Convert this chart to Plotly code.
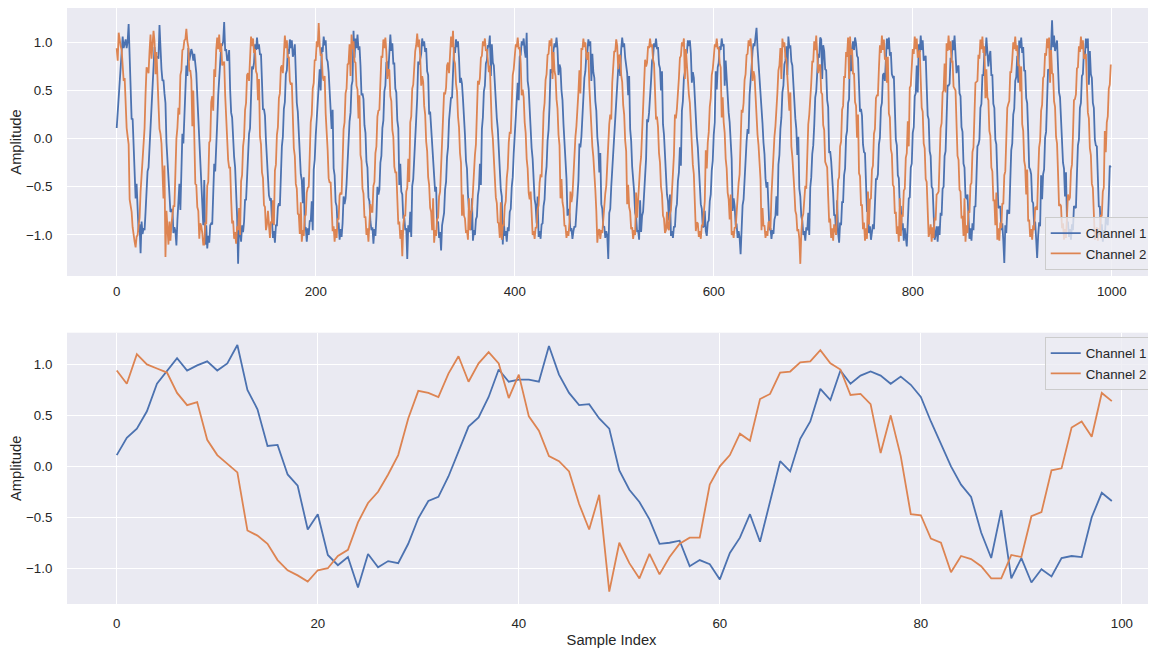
import plotly.graph_objects as go

# ---------------- data ----------------
ch1 = [
    # 0-99
    0.11, 0.28, 0.37, 0.54, 0.81, 0.93, 1.06, 0.94, 0.99, 1.03,
    0.94, 1.01, 1.19, 0.75, 0.56, 0.20, 0.21, -0.08, -0.19, -0.62,
    -0.47, -0.87, -0.97, -0.89, -1.19, -0.86, -0.99, -0.93, -0.95, -0.76,
    -0.51, -0.34, -0.30, -0.10, 0.14, 0.39, 0.48, 0.68, 0.95, 0.83,
    0.85, 0.85, 0.83, 1.18, 0.90, 0.72, 0.60, 0.61, 0.47, 0.37,
    -0.04, -0.23, -0.35, -0.52, -0.76, -0.75, -0.73, -0.98, -0.92, -0.96,
    -1.11, -0.85, -0.70, -0.47, -0.74, -0.34, 0.05, -0.05, 0.27, 0.44,
    0.76, 0.65, 0.94, 0.81, 0.89, 0.93, 0.89, 0.81, 0.88, 0.80,
    0.68, 0.44, 0.22, 0.00, -0.18, -0.30, -0.65, -0.90, -0.43, -1.10,
    -0.90, -1.14, -1.01, -1.08, -0.90, -0.88, -0.89, -0.50, -0.26, -0.34,
    # 100-199
    0.05, 0.16, 0.45, 0.66, 0.74, 0.96, 0.97, 1.01, 1.21, 0.91,
    0.93, 0.81, 0.82, 0.92, 0.51, 0.27, 0.22, -0.11, -0.19, -0.30,
    -0.56, -0.81, -1.30, -0.88, -0.96, -1.07, -0.90, -0.97, -0.86, -0.63,
    -0.64, -0.39, -0.28, 0.05, 0.11, 0.38, 0.75, 0.72, 0.79, 0.98,
    0.92, 1.05, 0.93, 0.98, 0.87, 0.88, 0.66, 0.30, 0.31, 0.24,
    -0.02, -0.27, -0.33, -0.59, -0.63, -0.62, -0.84, -1.03, -0.96, -1.08,
    -0.90, -0.90, -0.71, -0.67, -0.70, -0.33, -0.08, 0.02, 0.31, 0.38,
    0.67, 0.71, 0.93, 0.88, 1.03, 0.94, 1.02, 0.85, 0.89, 0.98,
    0.66, 0.37, 0.28, -0.01, -0.09, -0.37, -0.43, -0.67, -0.40, -0.93,
    -0.92, -1.07, -0.93, -1.00, -0.85, -0.86, -0.65, -0.95, -0.32, -0.22,
    # 200-299
    0.03, 0.22, 0.33, 0.58, 0.72, 0.50, 0.95, 0.90, 1.06, 0.97,
    1.02, 0.83, 0.80, 0.69, 0.44, 0.36, 0.10, 0.30, -0.31, -0.38,
    -0.66, -0.70, -0.92, -0.87, -1.05, -0.94, -1.02, -0.88, -0.60, -0.68,
    -0.62, -0.47, -0.20, -0.10, 0.18, 0.27, 0.55, 0.60, 1.12, 0.84,
    1.04, 0.94, 1.08, 0.92, 0.96, 0.76, 0.45, 0.47, 0.41, 0.14,
    0.06, -0.24, -0.30, -0.61, -0.65, -0.86, -0.95, -0.92, -1.09, -0.94,
    -1.01, -0.81, -0.50, -0.58, -0.53, -0.25, -0.18, 0.11, 0.19, 0.49,
    0.55, 0.79, 0.80, 0.70, 0.93, 1.08, 0.91, 0.99, 0.78, 0.78,
    0.52, 0.48, 0.19, 0.11, -0.48, -0.26, -0.55, -0.58, -0.83, -0.82,
    -0.95, -0.93, -1.25, -0.90, -0.97, -0.76, -1.02, -0.49, -0.42, -0.14,
    # 300-399
    -0.04, 0.21, 0.42, 0.80, 0.77, 0.85, 0.88, 1.04, 0.96, 1.01,
    0.90, 0.94, 0.70, 0.66, 0.25, 0.28, 0.09, -0.01, -0.30, -0.47,
    -0.55, -0.50, -0.88, -0.86, -1.03, -0.97, -1.16, -0.90, -0.80, -0.77,
    -0.53, -0.45, -0.19, -0.09, 0.19, 0.34, 0.43, 0.42, 0.74, 0.95,
    0.89, 1.03, 0.95, 1.01, 0.84, 0.58, 0.63, 0.57, 0.41, 0.12,
    0.04, -0.23, -0.31, -0.58, -0.74, -0.77, -0.95, -0.62, -1.06, -0.95,
    -1.00, -0.84, -0.81, -0.59, -0.52, -0.26, -0.48, 0.10, 0.22, 0.49,
    0.55, 0.78, 0.81, 0.97, 0.95, 1.07, 0.65, 0.98, 0.79, 0.76,
    0.54, 0.47, 0.21, 0.10, -0.18, -0.28, -0.53, -0.60, -1.10, -0.85,
    -1.01, -0.96, -1.07, -0.92, -0.96, -0.76, -0.73, -0.50, -0.40, -0.15,
    # 400-499
    0.05, 0.15, 0.40, 0.58, 0.40, 0.85, 0.87, 1.01, 0.97, 1.04,
    0.91, 0.84, 1.10, 0.60, 0.52, 0.27, 0.16, -0.10, -0.21, -0.47,
    -0.63, -0.69, -0.88, -0.60, -1.02, -0.96, -1.04, -0.89, -0.88, -0.70,
    -0.63, -0.39, -0.29, -0.02, 0.09, 0.35, 0.72, 0.68, 0.73, 0.92,
    0.99, 0.95, 1.05, 0.93, 0.66, 0.77, 0.73, 0.50, 0.40, 0.15,
    -0.04, -0.16, -0.41, -0.80, -0.73, -0.78, -0.96, -0.93, -1.04, -0.96,
    -0.91, -0.92, -0.73, -0.68, -0.44, -0.05, -0.09, 0.02, 0.29, 0.39,
    0.63, 0.70, 0.88, 0.90, 1.03, 0.96, 1.01, 0.60, 0.88, 0.69,
    0.63, 0.39, 0.29, 0.02, -0.09, -0.35, -0.15, -0.68, -0.73, -0.92,
    -0.91, -1.03, -0.96, -1.01, -1.25, -0.77, -0.73, -0.50, -0.33, -0.23,
    # 500-599
    -0.03, 0.24, 0.34, 0.57, 0.73, 0.78, 0.65, 0.93, 1.05, 0.95,
    0.99, 0.84, 0.74, 0.68, 0.45, 0.65, 0.10, -0.02, -0.29, -0.40,
    -0.55, -0.77, -0.81, -0.97, -0.95, -1.05, -0.64, -0.97, -0.80, -0.76,
    -0.55, -0.47, -0.21, 0.20, 0.17, 0.27, 0.52, 0.60, 0.81, 0.84,
    0.99, 0.95, 1.04, 0.93, 0.95, 0.77, 0.73, 0.50, 0.70, 0.15,
    0.04, -0.23, -0.33, -0.58, -0.65, -0.85, -0.58, -1.01, -0.96, -1.03,
    -0.91, -0.92, -0.73, -0.68, -0.44, -0.35, -0.09, -0.28, 0.29, 0.39,
    0.63, 0.69, 0.88, 0.89, 1.02, 0.96, 1.02, 0.89, 0.58, 0.69,
    0.63, 0.39, 0.29, 0.02, -0.09, -0.35, -0.44, -0.68, -0.73, -0.92,
    -0.91, -0.75, -0.96, -1.01, -0.87, -0.85, -0.65, -0.58, -0.33, -0.23,
    # 600-699
    0.04, 0.17, 0.70, 0.51, 0.74, 0.79, 0.96, 0.92, 1.04, 0.96,
    0.98, 0.55, 0.81, 0.61, 0.52, 0.27, 0.17, -0.09, -0.21, -0.75,
    -0.62, -0.70, -0.89, -0.89, -1.03, -0.96, -1.03, -1.20, -0.89, -0.69,
    -0.63, -0.40, -0.28, -0.03, 0.10, 0.05, 0.45, 0.67, 0.74, 0.91,
    0.99, 0.96, 1.04, 1.15, 0.94, 0.78, 0.72, 0.51, 0.40, 0.16,
    -0.04, -0.16, -0.41, -0.51, -0.45, -0.78, -0.95, -0.93, -1.04, -0.95,
    -0.99, -0.84, -0.80, -0.60, -0.80, -0.27, -0.17, 0.10, 0.22, 0.48,
    0.55, 0.77, 0.81, 0.96, 0.66, 1.06, 0.94, 0.97, 0.80, 0.76,
    0.55, 0.46, 0.21, 0.10, -0.17, 0.02, -0.52, -0.60, -0.81, -0.85,
    -1.00, -0.96, -1.06, -0.92, -0.95, -0.77, -1.00, -0.51, -0.40, -0.16,
    # 700-799
    -0.07, 0.14, 0.43, 0.49, 0.71, 0.88, 0.84, 1.05, 1.03, 0.62,
    0.97, 0.91, 0.72, 0.71, 0.40, 0.33, -0.15, -0.13, -0.23, -0.50,
    -0.57, -0.80, -0.79, -1.00, -0.64, -0.98, -1.08, -0.87, -0.90, -0.66,
    -0.66, -0.38, -0.31, 0.02, 0.08, 0.37, 0.41, 1.00, 0.70, 0.93,
    1.01, 0.92, 1.05, 0.99, 0.86, 0.84, 0.62, 0.28, 0.31, 0.24,
    -0.06, -0.14, -0.15, -0.49, -0.76, -0.75, -0.98, -0.91, -1.05, -0.97,
    -0.89, -0.94, -0.70, -0.42, -0.42, -0.37, -0.06, 0.01, 0.32, 0.37,
    0.66, 0.68, 0.60, 0.87, 1.04, 0.93, 1.05, 0.86, 0.90, 0.67,
    0.64, 0.65, 0.32, -0.01, -0.07, -0.38, -0.41, -0.71, -0.70, -0.95,
    -0.88, -1.06, -0.93, -1.04, -1.12, -0.88, -0.62, -0.61, -0.30, -0.26,
    # 800-899
    0.06, 0.12, 0.44, 0.47, 0.76, 0.48, 0.98, 0.90, 1.07, 0.92,
    1.02, 0.81, 0.84, 0.86, 0.55, 0.24, 0.20, -0.13, -0.18, -0.50,
    -0.52, -0.80, -1.05, -1.00, -0.91, -1.07, -0.91, -1.00, -0.77, -0.80,
    -0.52, -0.50, -0.18, -0.13, 0.20, 0.55, 0.55, 0.57, 0.84, 0.81,
    1.02, 0.92, 1.07, 0.90, 0.68, 0.74, 0.76, 0.47, 0.44, 0.12,
    0.07, -0.26, -0.30, -0.61, -0.62, -0.58, -0.84, -1.04, -0.93, -1.06,
    -0.88, -0.95, -0.70, -0.71, -0.41, -0.08, -0.06, -0.01, 0.32, 0.36,
    0.66, 0.66, 0.91, 0.86, 1.05, 0.93, 0.75, 0.86, 0.91, 0.66,
    0.66, 0.36, 0.32, -0.01, -0.06, -0.38, -0.72, -0.71, -0.70, -0.95,
    -0.88, -1.06, -1.29, -0.90, -0.98, -0.74, -0.76, -0.78, -0.44, -0.12,
    # 900-999
    -0.05, 0.25, 0.31, 0.60, 0.64, 0.86, 0.58, 1.02, 0.94, 1.05,
    0.89, 0.95, 0.70, 0.71, 0.42, 0.37, 0.07, -0.30, -0.32, -0.37,
    -0.65, -0.67, -0.91, -0.86, -1.04, -1.24, -1.01, -0.87, -0.91, -0.38,
    -0.63, -0.37, -0.32, 0.01, 0.07, 0.37, 0.72, 0.71, 0.70, 0.95,
    1.23, 0.95, 1.07, 0.91, 0.97, 1.02, 0.75, 0.48, 0.43, 0.13,
    0.05, -0.25, -0.31, -0.60, -0.35, -0.86, -0.87, -1.02, -0.94, -1.05,
    -0.89, -0.95, -0.70, -0.71, -0.72, -0.37, -0.07, -0.01, 0.32, 0.37,
    0.65, 0.67, 0.91, 0.86, 1.04, 0.94, 1.04, 0.56, 0.91, 0.67,
    0.63, 0.37, 0.32, -0.01, -0.07, -0.08, -0.42, -0.71, -0.70, -0.95,
    -0.89, -1.07, -0.95, -1.03, -0.82, -0.88, -0.90, -0.62, -0.28, -0.30,
]

ch2 = [
    # 0-99
    0.94, 0.81, 1.10, 1.00, 0.96, 0.92, 0.72, 0.60, 0.63, 0.26,
    0.11, 0.02, -0.06, -0.63, -0.68, -0.76, -0.92, -1.02, -1.07, -1.13,
    -1.02, -1.00, -0.88, -0.82, -0.55, -0.36, -0.25, -0.08, 0.11, 0.47,
    0.74, 0.72, 0.68, 0.91, 1.08, 0.83, 1.01, 1.12, 1.01, 0.67,
    0.90, 0.49, 0.35, 0.10, 0.05, -0.05, -0.37, -0.62, -0.28, -1.23,
    -0.75, -0.95, -1.10, -0.86, -1.06, -0.89, -0.76, -0.70, -0.70, -0.18,
    0.00, 0.11, 0.32, 0.25, 0.66, 0.71, 0.92, 0.93, 1.02, 1.03,
    1.14, 1.01, 0.95, 0.70, 0.71, 0.61, 0.13, 0.50, 0.10, -0.47,
    -0.48, -0.71, -0.75, -1.04, -0.88, -0.91, -0.98, -1.10, -1.10, -0.87,
    -0.89, -0.49, -0.45, -0.04, -0.02, 0.38, 0.44, 0.29, 0.72, 0.64,
    # 100-199
    0.92, 1.05, 0.93, 1.08, 0.90, 0.99, 0.76, 0.78, 0.80, 0.45,
    0.17, 0.08, -0.22, -0.30, -0.30, -0.63, -0.88, -0.85, -1.04, -0.97,
    -1.09, -0.91, -0.95, -0.72, -1.00, -0.44, -0.38, -0.08, 0.01, 0.30,
    0.37, 0.66, 0.68, 0.60, 0.88, 1.06, 0.96, 1.04, 0.89, 0.93,
    0.70, 0.67, 0.40, 0.62, 0.02, -0.06, -0.35, -0.41, -0.69, -0.71,
    -0.95, -0.89, -0.75, -0.95, -1.03, -0.86, -0.88, -0.64, -0.90, -0.33,
    -0.27, 0.04, 0.12, 0.42, 0.47, 0.74, 0.76, 0.68, 0.92, 1.07,
    0.94, 1.02, 0.84, 0.85, 0.60, 0.56, 0.58, 0.21, -0.10, -0.18,
    -0.47, -0.52, -0.78, -0.79, -0.99, -0.66, -1.07, -0.95, -1.01, -0.81,
    -0.79, -0.56, -0.51, -0.50, -0.13, 0.17, 0.25, 0.52, 0.58, 0.82,
    # 200-299
    0.81, 1.01, 0.95, 1.20, 0.97, 0.86, 0.88, 0.64, 0.60, 0.65,
    0.26, -0.04, -0.12, -0.41, -0.46, -0.45, -0.75, -0.96, -0.91, -1.07,
    -0.94, -1.03, -0.83, -0.84, -0.59, -0.56, -0.58, -0.21, 0.10, 0.17,
    0.47, 0.52, 0.77, 0.78, 0.98, 0.65, 1.08, 0.93, 1.01, 0.80,
    0.79, 0.55, 0.51, 0.21, 0.45, -0.17, -0.23, -0.52, -0.57, -0.82,
    -0.81, -1.00, -0.93, -1.07, -0.91, -0.68, -0.76, -0.76, -0.49, -0.45,
    -0.15, -0.08, 0.23, 0.29, 0.30, 0.61, 0.86, 0.84, 1.03, 0.94,
    1.05, 0.90, 0.62, 0.72, 0.71, 0.44, 0.39, 0.09, 0.02, -0.29,
    -0.35, -0.35, -0.66, -0.89, -0.86, -1.04, -0.95, -1.22, -0.90, -0.80,
    -0.80, -0.55, -0.51, -0.21, -0.45, 0.17, 0.23, 0.52, 0.56, 0.82,
    # 300-399
    0.91, 0.97, 1.09, 0.95, 1.03, 0.85, 0.55, 0.65, 0.59, 0.34,
    0.25, -0.03, -0.13, -0.40, -0.48, -0.72, -0.76, -0.95, -0.62, -1.08,
    -0.95, -1.01, -0.84, -0.82, -0.60, -0.55, -0.29, -0.19, 0.08, 0.48,
    0.46, 0.53, 0.76, 0.79, 0.68, 0.94, 1.06, 0.95, 1.12, 0.82,
    0.78, 0.57, 0.49, 0.23, 0.12, -0.15, -0.25, -0.80, -0.58, -0.80,
    -0.83, -0.98, -0.95, -1.05, -0.62, -0.95, -0.78, -0.74, -0.51, -0.43,
    -0.17, -0.06, 0.21, 0.60, 0.56, 0.63, 0.84, 0.86, 1.01, 0.96,
    1.04, 0.91, 0.93, 0.74, 0.69, 0.76, 0.37, 0.11, 0.00, -0.27,
    -0.37, -0.61, -0.67, -0.87, -0.88, -1.03, -0.66, -1.05, -0.90, -0.90,
    -0.70, -0.65, -0.41, -0.31, -0.04, 0.07, 0.05, 0.42, 0.66, 0.72,
    # 400-499
    0.83, 0.98, 0.95, 1.05, 0.93, 0.95, 0.78, 0.45, 0.51, 0.43,
    0.17, 0.06, -0.21, -0.31, -0.56, -0.63, -0.55, -0.86, -1.00, -0.96,
    -1.04, -0.92, -0.93, -0.74, -0.69, -0.46, -0.37, -0.40, 0.00, 0.27,
    0.37, 0.61, 0.67, 0.87, 0.88, 1.02, 0.96, 1.04, 0.62, 0.90,
    0.70, 0.65, 0.41, 0.31, 0.04, -0.07, -0.62, -0.42, -0.66, -0.72,
    -0.91, -0.90, -1.03, -0.96, -1.01, -0.87, -0.55, -0.66, -0.59, -0.35,
    -0.25, 0.02, 0.13, 0.39, 0.48, 0.71, 0.47, 0.94, 0.92, 1.04,
    0.95, 1.00, 0.85, 0.82, 0.90, 0.54, 0.29, 0.19, -0.08, -0.19,
    -0.45, -0.53, -0.75, -1.08, -0.96, -0.94, -1.04, -0.95, -0.98, -0.82,
    -0.78, -0.57, -0.49, -0.23, -0.12, 0.15, 0.25, 0.20, 0.58, 0.80,
    # 500-599
    0.91, 0.90, 1.03, 0.96, 0.72, 0.87, 0.86, 0.66, 0.59, 0.35,
    0.25, -0.02, -0.13, -0.68, -0.48, -0.71, -0.76, -0.94, -0.92, -1.04,
    -0.95, -1.00, -0.56, -0.82, -0.61, -0.54, -0.29, -0.19, 0.08, 0.19,
    0.45, 0.82, 0.75, 0.79, 0.96, 0.94, 1.04, 0.95, 0.98, 0.82,
    0.78, 0.57, 0.20, 0.23, 0.12, -0.15, -0.25, -0.50, -0.58, -0.80,
    -0.83, -0.98, -0.95, -0.76, -0.93, -0.95, -0.78, -0.74, -0.51, -0.43,
    -0.17, 0.25, 0.21, 0.31, 0.56, 0.63, 0.84, 0.86, 1.00, 0.96,
    1.04, 0.62, 0.93, 0.74, 0.69, 0.46, 0.37, 0.11, 0.00, -0.27,
    -0.37, -0.61, -0.96, -0.87, -0.88, -1.02, -0.96, -1.04, -0.90, -0.90,
    -0.70, -0.65, -0.12, -0.31, -0.04, 0.07, 0.33, 0.42, 0.66, 0.72,
    # 600-699
    0.84, 0.98, 0.95, 1.04, 0.93, 0.95, 0.78, 0.74, 0.22, 0.43,
    0.17, 0.06, -0.21, -0.31, -0.56, -0.63, -0.84, -0.58, -1.00, -0.96,
    -1.03, -0.92, -0.93, -0.74, -0.69, -0.46, -0.37, -0.11, 0.30, 0.27,
    0.37, 0.61, 0.67, 0.87, 0.88, 1.02, 0.96, 1.04, 0.90, 0.60,
    0.70, 0.65, 0.41, 0.31, 0.04, -0.07, -0.33, -0.42, -0.95, -0.72,
    -0.91, -0.90, -1.03, -0.96, -1.01, -0.87, -0.86, -0.95, -0.59, -0.35,
    -0.25, 0.02, 0.13, 0.39, 0.48, 0.71, 0.76, 0.94, 0.62, 1.04,
    0.95, 1.00, 0.85, 0.82, 0.61, 0.54, 0.29, 0.48, -0.08, -0.19,
    -0.45, -0.53, -0.75, -0.79, -0.96, -0.94, -1.04, -1.30, -0.98, -0.82,
    -0.78, -0.57, -0.49, -0.52, -0.12, 0.15, 0.25, 0.50, 0.58, 0.80,
    # 700-799
    0.80, 1.01, 0.92, 1.07, 0.90, 0.68, 0.75, 0.77, 0.48, 0.46,
    0.14, 0.09, -0.24, -0.28, -0.30, -0.60, -0.87, -0.83, -1.03, -0.93,
    -1.06, -0.89, -0.96, -1.00, -0.72, -0.43, -0.40, -0.08, -0.03, 0.30,
    0.34, 0.64, 0.64, 0.90, 0.85, 1.05, 0.62, 1.06, 0.87, 0.93,
    0.67, 0.68, 0.38, 0.34, 0.01, 0.25, -0.36, -0.39, -0.69, -0.69,
    -0.94, -0.87, -1.06, -0.93, -1.04, -0.55, -0.89, -0.63, -0.62, -0.32,
    -0.28, 0.05, 0.10, 0.42, 0.45, 0.45, 0.73, 0.97, 0.89, 1.07,
    0.92, 1.03, 0.82, 0.85, 0.58, 0.85, 0.26, 0.22, -0.11, -0.16,
    -0.48, -0.50, -0.78, -0.76, -0.99, -0.91, -1.07, -0.62, -1.01, -0.79,
    -0.81, -0.54, -0.52, -0.20, -0.15, 0.18, -0.08, 0.53, 0.55, 0.83,
    # 800-899
    0.93, 0.88, 1.06, 0.93, 1.04, 0.84, 0.89, 0.92, 0.62, 0.32,
    0.28, -0.05, -0.10, -0.42, -0.45, -0.74, -1.02, -0.97, -0.89, -1.07,
    -0.92, -1.03, -0.82, -0.85, -0.58, -0.57, -0.55, -0.22, 0.11, 0.16,
    0.48, 0.50, 0.78, 0.48, 0.99, 0.91, 1.07, 0.92, 1.01, 0.79,
    0.81, 0.54, 0.52, 0.50, 0.15, -0.18, -0.22, -0.53, -0.55, -0.83,
    -0.80, -1.01, -0.62, -1.07, -0.90, -0.98, -0.75, -0.77, -0.48, -0.46,
    -0.14, -0.09, 0.24, 0.58, 0.59, 0.60, 0.87, 0.83, 1.03, 0.93,
    1.06, 0.89, 0.96, 0.42, 0.72, 0.43, 0.40, 0.08, 0.03, -0.30,
    -0.34, -0.64, -0.64, -0.90, -0.56, -1.05, -0.93, -1.06, -0.87, -0.93,
    -0.67, -0.68, -0.38, -0.34, -0.01, 0.32, 0.36, 0.39, 0.69, 0.69,
    # 900-999
    0.82, 1.00, 0.93, 1.06, 0.91, 0.97, 0.76, 0.76, 0.49, 0.75,
    0.15, 0.08, -0.23, -0.29, -0.58, -0.32, -0.86, -0.84, -1.02, -0.94,
    -1.05, -0.90, -0.95, -0.72, -0.71, -0.74, -0.39, -0.09, -0.02, 0.29,
    0.35, 0.63, 0.65, 0.89, 0.86, 1.04, 0.94, 1.05, 0.58, 0.92,
    0.68, 0.67, 0.39, 0.33, 0.02, -0.05, -0.35, -0.70, -0.68, -0.70,
    -0.93, -0.88, -1.05, -0.94, -1.03, -0.85, -0.58, -0.64, -0.61, -0.33,
    -0.27, 0.04, 0.40, 0.41, 0.46, 0.73, 0.74, 0.96, 0.90, 1.06,
    0.93, 1.02, 0.83, 0.84, 0.88, 0.56, 0.27, 0.21, -0.10, -0.17,
    -0.47, -0.51, -0.77, -1.05, -0.98, -0.92, -1.06, -0.93, -1.00, -0.80,
    -0.80, -0.55, -0.51, 0.08, -0.14, 0.17, 0.23, 0.52, 0.56, 0.77,
]

series_names = ["Channel 1", "Channel 2"]
zoom_count = 100
top_xticks = [0, 200, 400, 600, 800, 1000]
bottom_xticks = [0, 20, 40, 60, 80, 100]
y_ticks = [-1.0, -0.5, 0.0, 0.5, 1.0]

# ---------------- styling ----------------
COLORS = ["#4C72B0", "#DD8452"]
BG = "#EAEAF2"
TEXT = "#262626"
FONT = "Liberation Sans, Arial, sans-serif"
TICK_SIZE = 13.3
TITLE_SIZE = 14.7

sample_index = list(range(len(ch1)))


def padded(values_list):
    lo = min(min(v) for v in values_list)
    hi = max(max(v) for v in values_list)
    span = hi - lo
    return [lo - 0.05 * span, hi + 0.05 * span]


fig = go.Figure()
for name, vals, col in zip(series_names, [ch1, ch2], COLORS):
    fig.add_trace(go.Scatter(x=sample_index, y=vals, mode="lines", name=name,
                             line=dict(color=col, width=1.8),
                             xaxis="x", yaxis="y", legend="legend"))
for name, vals, col in zip(series_names, [ch1, ch2], COLORS):
    fig.add_trace(go.Scatter(x=sample_index[:zoom_count], y=vals[:zoom_count],
                             mode="lines", name=name,
                             line=dict(color=col, width=1.8),
                             xaxis="x2", yaxis="y2", legend="legend2"))

n_all = len(ch1)
n_zoom = zoom_count

axis_common = dict(
    showgrid=True, gridcolor="white", gridwidth=1.1,
    zeroline=False, showline=False, automargin=False,
    ticks="outside", tickcolor="rgba(0,0,0,0)",
    tickfont=dict(size=TICK_SIZE, color=TEXT, family=FONT),
)

legend_common = dict(
    bgcolor="rgba(236,236,243,0.8)", bordercolor="#CCCCCC", borderwidth=1,
    font=dict(size=TICK_SIZE, color=TEXT, family=FONT),
    itemwidth=30, tracegroupgap=0, xanchor="right", x=0.997,
)

# The page body adds an 8px offset, so the figure is 8px smaller than the window.
fig.update_layout(
    width=1148, height=642,
    margin=dict(l=59, r=0, t=0, b=46, autoexpand=False),
    paper_bgcolor="white", plot_bgcolor=BG,
    font=dict(family=FONT, color=TEXT, size=TICK_SIZE),
    showlegend=True,
    xaxis=dict(domain=[0, 1], anchor="y",
               range=[-0.05 * (n_all - 1), (n_all - 1) * 1.0455],
               tickvals=top_xticks, ticklen=3, **axis_common),
    yaxis=dict(domain=[0.5503, 1], anchor="x", range=padded([ch1, ch2]),
               tickvals=y_ticks, tickformat=".1f", ticklen=11,
               title=dict(text="Amplitude", font=dict(size=TITLE_SIZE, color=TEXT), standoff=6),
               **axis_common),
    xaxis2=dict(domain=[0, 1], anchor="y2",
                range=[-0.05 * (n_zoom - 1), (n_zoom - 1) * 1.0444],
                tickvals=bottom_xticks, ticklen=7,
                title=dict(text="Sample Index", font=dict(size=TITLE_SIZE, color=TEXT), standoff=4),
                **axis_common),
    yaxis2=dict(domain=[0, 0.4552], anchor="x2",
                range=padded([ch1[:zoom_count], ch2[:zoom_count]]),
                tickvals=y_ticks, tickformat=".1f", ticklen=11,
                title=dict(text="Amplitude", font=dict(size=TITLE_SIZE, color=TEXT), standoff=6),
                **axis_common),
    legend=dict(yanchor="bottom", y=0.5604, **legend_common),
    legend2=dict(yanchor="top", y=0.448, **legend_common),
)

fig.write_html("out.html")
